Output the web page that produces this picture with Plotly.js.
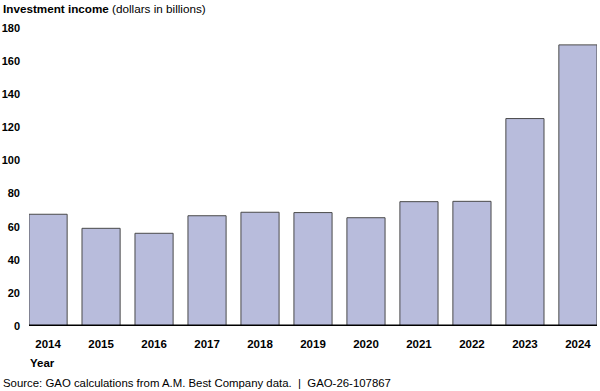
<!DOCTYPE html>
<html><head><meta charset="utf-8">
<script src="https://cdn.plot.ly/plotly-3.0.1.min.js"></script>
<style>html,body{margin:0;padding:0;background:#fff}#chart{width:600px;height:391px}</style>
</head><body><div id="chart"></div>
<script>
const years = ["2014","2015","2016","2017","2018","2019","2020","2021","2022","2023","2024"];
const income = [67.5, 59.0, 56.0, 66.6, 68.7, 68.5, 65.4, 75.1, 75.3, 125.3, 169.8];
const yTicks = [0,20,40,60,80,100,120,140,160,180];

const trace = {
  type: "bar", x: years, y: income,
  marker: {color: "#b8bcdc", line: {color: "#4a4a4a", width: 1}},
  hoverinfo: "x+y"
};
const font = {family: "Liberation Sans, Arial, sans-serif", color: "#000"};
const layout = {
  width: 600, height: 391,
  margin: {l: 29, r: 3, t: 28, b: 65},
  paper_bgcolor: "#fff", plot_bgcolor: "#fff",
  bargap: 0.28, showlegend: false,
  font: font,
  xaxis: {type: "category", range: [-0.36, 10.36], showgrid: false, zeroline: false,
    showline: false, ticks: "", ticklabelstandoff: 9,
    tickfont: {family: font.family, size: 11.5, weight: "bold", color: "#000"}},
  yaxis: {range: [0, 180], tickvals: yTicks, showgrid: false, zeroline: false,
    showline: false, ticks: "", ticklabelstandoff: 8,
    tickfont: {family: font.family, size: 11, weight: "bold", color: "#000"}},
  shapes: [{type: "line", xref: "paper", yref: "y", x0: 0, x1: 1, y0: 0, y1: 0,
    line: {color: "#000", width: 3}, layer: "above"}],
  annotations: [
    {xref: "paper", yref: "paper", x: -28/568, y: 1 + 19/298, xanchor: "left", yanchor: "middle",
     showarrow: false, text: "<b>Investment income</b> (dollars in billions)",
     font: {family: font.family, size: 11.7, color: "#000"}},
    {xref: "paper", yref: "paper", x: -1/568, y: -37/298, xanchor: "left", yanchor: "middle",
     showarrow: false, text: "<b>Year</b>", font: {family: font.family, size: 11.5, color: "#000"}},
    {xref: "paper", yref: "paper", x: -28/568, y: -57/298, xanchor: "left", yanchor: "middle",
     showarrow: false, text: "Source: GAO calculations from A.M. Best Company data.  |  GAO-26-107867",
     font: {family: font.family, size: 11.4, color: "#000"}}
  ]
};
Plotly.newPlot("chart", [trace], layout, {displayModeBar: false, staticPlot: true});
</script></body></html>
